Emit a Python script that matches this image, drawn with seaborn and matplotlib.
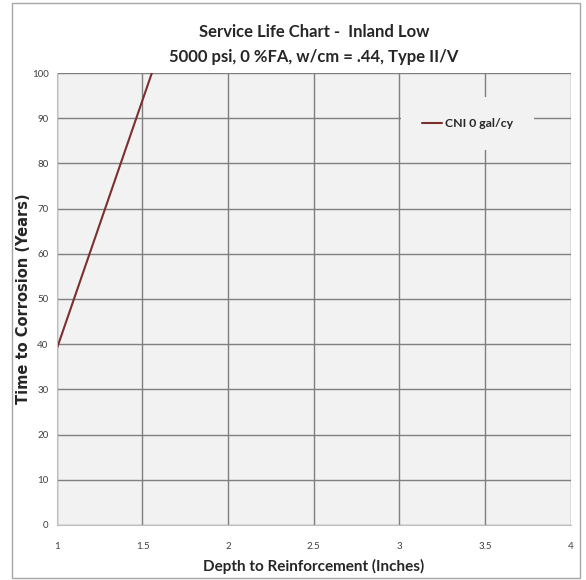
import numpy as np
import matplotlib.pyplot as plt
import matplotlib.patches as mpatches
import seaborn as sns
import pandas as pd

depth = [1.0, 1.5, 2.0]
years = [39, 94, 149]
series_name = 'CNI 0 gal/cy'

df = pd.DataFrame({'Depth': depth, 'Years': years, 'Series': series_name})

sns.set_style('whitegrid')
plt.rcParams['font.family'] = ['Lato', 'DejaVu Sans']

fig = plt.figure(figsize=(5.86, 5.80), dpi=100)
ax = fig.add_axes([0.097, 0.095, 0.877, 0.779])
ax.set_facecolor('#f2f2f2')

sns.lineplot(data=df, x='Depth', y='Years', hue='Series', palette=['#7b2f2f'],
             linewidth=1.5, ax=ax)

ax.set_xlim(1, 4)
ax.set_ylim(0, 100)
ax.set_xticks([1, 1.5, 2, 2.5, 3, 3.5, 4])
ax.set_xticklabels(['1', '1.5', '2', '2.5', '3', '3.5', '4'])
ax.set_yticks(range(0, 101, 10))
ax.grid(True, color='#7f7f7f', linewidth=1)
ax.tick_params(labelsize=7, colors='#404040', length=0, pad=6)
ax.tick_params(axis='x', pad=12)
for s in ax.spines.values():
    s.set_visible(False)
ax.spines['bottom'].set_visible(True)
ax.spines['bottom'].set_color('#bfbfbf')
ax.spines['left'].set_visible(True)
ax.spines['left'].set_color('#bfbfbf')

ax.set_xlabel('Depth to Reinforcement (Inches)', fontsize=11, fontweight='bold', labelpad=6)
ax.set_ylabel('Time to Corrosion (Years)', fontsize=10.5, fontweight='bold',
              family=['DejaVu Sans'])
ax.yaxis.set_label_coords(-0.05, 0.5)
ax.set_title('Service Life Chart -  Inland Low\n5000 psi, 0 %FA, w/cm = .44, Type II/V',
             fontsize=12, fontweight='bold', linespacing=1.7, pad=8)

leg = ax.legend(loc='upper right', bbox_to_anchor=(0.94, 0.96), frameon=True,
                facecolor='#f2f2f2', edgecolor='none', framealpha=1,
                fontsize=8.8, handlelength=1.7, handletextpad=0.2,
                borderpad=1.7)
for t in leg.get_texts():
    t.set_fontweight('bold')

fig.patches.append(mpatches.Rectangle((0.02, 0.004), 0.97, 0.99, transform=fig.transFigure,
                                      fill=False, edgecolor='#a6a6a6', linewidth=1))

plt.savefig('out.png', dpi=100)
